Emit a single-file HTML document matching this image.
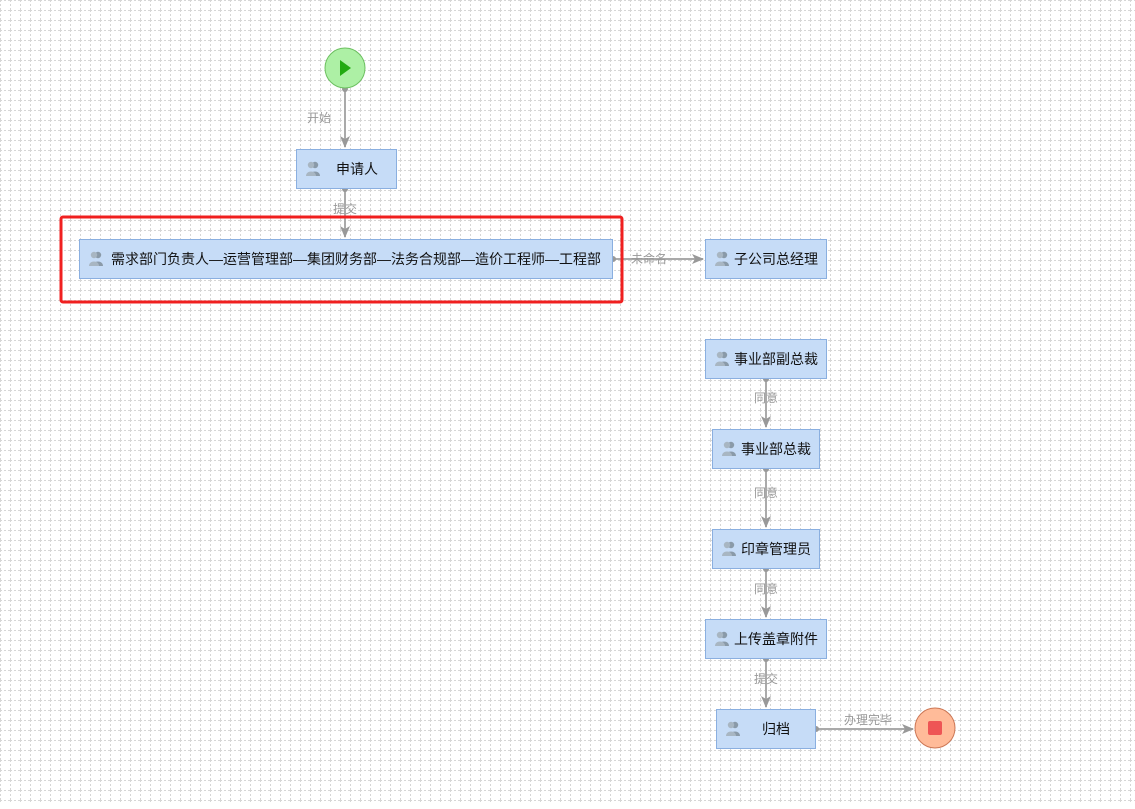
<!DOCTYPE html>
<html><head><meta charset="utf-8"><style>
body{margin:0;width:1135px;height:804px;overflow:hidden;background:#fff}
svg text{font-family:"Liberation Sans","Noto Sans CJK SC",sans-serif}
</style></head><body>
<svg width="1135" height="804" xmlns="http://www.w3.org/2000/svg">
<defs>
<pattern id="g" width="10" height="10" patternUnits="userSpaceOnUse">
<path d="M0 0.5H10M0.5 0V10" stroke="#d6d6d6" stroke-width="1" stroke-dasharray="2 2" fill="none"/>
</pattern>
<marker id="a" markerWidth="12" markerHeight="10" refX="11" refY="5" orient="auto" markerUnits="userSpaceOnUse">
<path d="M0 0L12 5L0 10L3 5Z" fill="#999"/>
</marker>
<g id="ic"><circle cx="4" cy="-3" r="3.2" fill="#8a9aa8"/><path d="M-1 8C-1 2 9 2 9 8Z" fill="#8a9aa8"/><circle cx="0" cy="-3" r="3.2" fill="#a8b6c2"/><path d="M-5 8C-5 2 5 2 5 8Z" fill="#a8b6c2"/></g>
</defs>
<rect width="1135" height="804" fill="url(#g)"/>
<g stroke="#aaa" stroke-width="2" fill="none">
<path d="M345 89V147" marker-end="url(#a)"/>
<path d="M345 189V237" marker-end="url(#a)"/>
<path d="M613 259H703" marker-end="url(#a)"/>
<path d="M766 379V427" marker-end="url(#a)"/>
<path d="M766 469V527" marker-end="url(#a)"/>
<path d="M766 569V617" marker-end="url(#a)"/>
<path d="M766 659V707" marker-end="url(#a)"/>
<path d="M816 729H913" marker-end="url(#a)"/>
</g>
<g fill="#999"><circle cx="345" cy="89" r="3"/><circle cx="345" cy="189" r="3"/><circle cx="613" cy="259" r="3"/><circle cx="766" cy="379" r="3"/><circle cx="766" cy="469" r="3"/><circle cx="766" cy="569" r="3"/><circle cx="766" cy="659" r="3"/><circle cx="816" cy="729" r="3"/></g>
<g font-size="12" fill="#999">
<text x="307" y="122">开始</text><text x="333" y="213">提交</text><text x="631" y="263">未命名</text>
<text x="754" y="402">同意</text><text x="754" y="497">同意</text><text x="754" y="593">同意</text><text x="754" y="683">提交</text><text x="844" y="724">办理完毕</text>
</g>
<circle cx="345" cy="68" r="20" fill="#adf0a5" stroke="#6cc060"/>
<path d="M340 60L351 68L340 76Z" fill="#22aa11"/>
<circle cx="935" cy="728" r="20" fill="#ffbb99" stroke="#cc7755"/>
<rect x="928" y="721" width="14" height="14" rx="2" fill="#ee5555"/>
<g fill="#c6dcf7" stroke="#8aafe0" stroke-width="1">
<rect x="296.5" y="149.5" width="100" height="39"/>
<rect x="79.5" y="239.5" width="533" height="39"/>
<rect x="705.5" y="239.5" width="121" height="39"/>
<rect x="705.5" y="339.5" width="121" height="39"/>
<rect x="712.5" y="429.5" width="107" height="39"/>
<rect x="712.5" y="529.5" width="107" height="39"/>
<rect x="705.5" y="619.5" width="121" height="39"/>
<rect x="716.5" y="709.5" width="99" height="39"/>
</g>
<use href="#ic" x="311" y="168"/><use href="#ic" x="94" y="258"/><use href="#ic" x="720" y="258"/><use href="#ic" x="720" y="358"/><use href="#ic" x="727" y="448"/><use href="#ic" x="727" y="548"/><use href="#ic" x="720" y="638"/><use href="#ic" x="731" y="728"/>
<g font-size="14" fill="#111">
<text x="336" y="174">申请人</text>
<text x="111" y="264" textLength="490" lengthAdjust="spacingAndGlyphs">需求部门负责人—运营管理部—集团财务部—法务合规部—造价工程师—工程部</text>
<text x="734" y="264">子公司总经理</text>
<text x="734" y="364">事业部副总裁</text>
<text x="741" y="454">事业部总裁</text>
<text x="741" y="554">印章管理员</text>
<text x="734" y="644">上传盖章附件</text>
<text x="762" y="734">归档</text>
</g>
<rect x="61" y="217" width="561" height="85" rx="2" fill="none" stroke="#f02020" stroke-width="3"/>
</svg>
</body></html>
